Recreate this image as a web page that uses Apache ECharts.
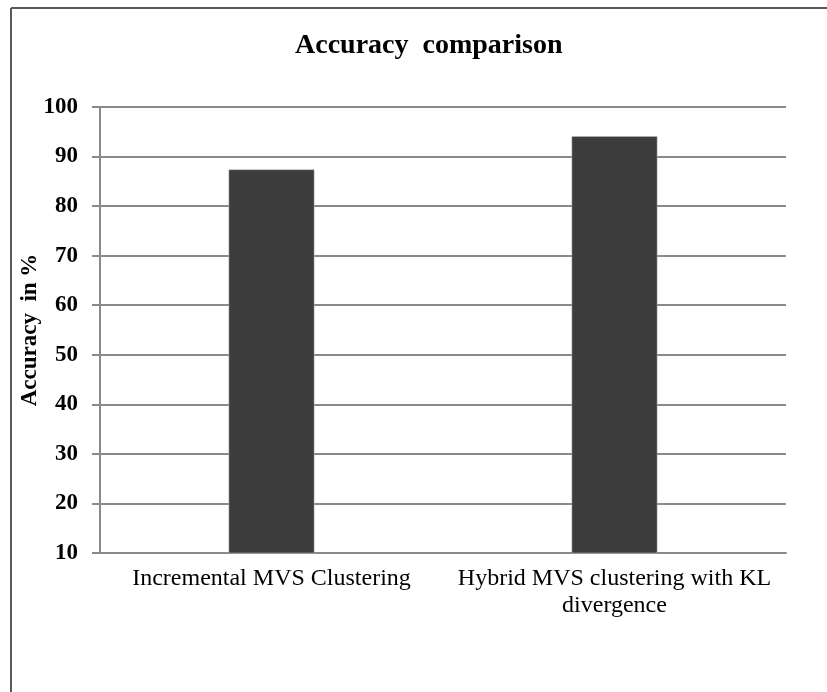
<!DOCTYPE html>
<html>
<head>
<meta charset="utf-8">
<script src="https://cdn.jsdelivr.net/npm/echarts@6/dist/echarts.min.js"></script>
<style>
html,body{margin:0;padding:0;background:#fff;}
#chart{width:827px;height:692px;}
</style>
</head>
<body>
<div id="chart"></div>
<script>
const titleText = 'Accuracy  comparison';
const yAxisTitle = 'Accuracy  in %';
const categories = ['Incremental MVS Clustering', 'Hybrid MVS clustering with KL\ndivergence'];
const accuracy = [87.4, 94.1];
const yTicks = { min: 10, max: 100, interval: 10 };

const FONT = '"Liberation Serif", "Times New Roman", serif';
const chart = echarts.init(document.getElementById('chart'), null, { renderer: 'canvas' });
chart.setOption({
  backgroundColor: '#ffffff',
  animation: false,
  title: {
    text: titleText,
    left: 290,
    top: 27,
    textStyle: { fontFamily: FONT, fontSize: 28, fontWeight: 'bold', color: '#000' }
  },
  graphic: [
    { type: 'line', shape: { x1: 11, y1: 8, x2: 827, y2: 8 }, style: { stroke: '#5a5a5a', lineWidth: 2 } },
    { type: 'line', shape: { x1: 11, y1: 8, x2: 11, y2: 692 }, style: { stroke: '#5a5a5a', lineWidth: 2 } }
  ],
  grid: { left: 100, right: 41, top: 107, bottom: 139 },
  xAxis: {
    type: 'category',
    data: categories,
    axisLine: { show: true, lineStyle: { color: '#8a8a8a', width: 2 } },
    axisTick: { show: false },
    axisLabel: {
      interval: 0,
      margin: 12,
      fontFamily: FONT, fontSize: 24, color: '#000', lineHeight: 27
    }
  },
  yAxis: {
    type: 'value',
    min: yTicks.min, max: yTicks.max, interval: yTicks.interval,
    name: yAxisTitle,
    nameLocation: 'middle',
    nameRotate: 90,
    nameGap: 58,
    nameMoveOverlap: false,
    nameTextStyle: { fontFamily: FONT, fontSize: 23, fontWeight: 'bold', color: '#000' },
    axisLine: { show: true, lineStyle: { color: '#8a8a8a', width: 2 } },
    axisTick: { show: true, length: 8, lineStyle: { color: '#8a8a8a', width: 2 } },
    axisLabel: { margin: 22, fontFamily: FONT, fontSize: 23, fontWeight: 'bold', color: '#000' },
    splitLine: { show: true, lineStyle: { color: '#8a8a8a', width: 2 } }
  },
  series: [{
    type: 'bar',
    data: accuracy,
    barWidth: '25%',
    itemStyle: { color: '#3c3c3c', borderColor: '#bdbdbd', borderWidth: 0.5 }
  }]
});
</script>
</body>
</html>
